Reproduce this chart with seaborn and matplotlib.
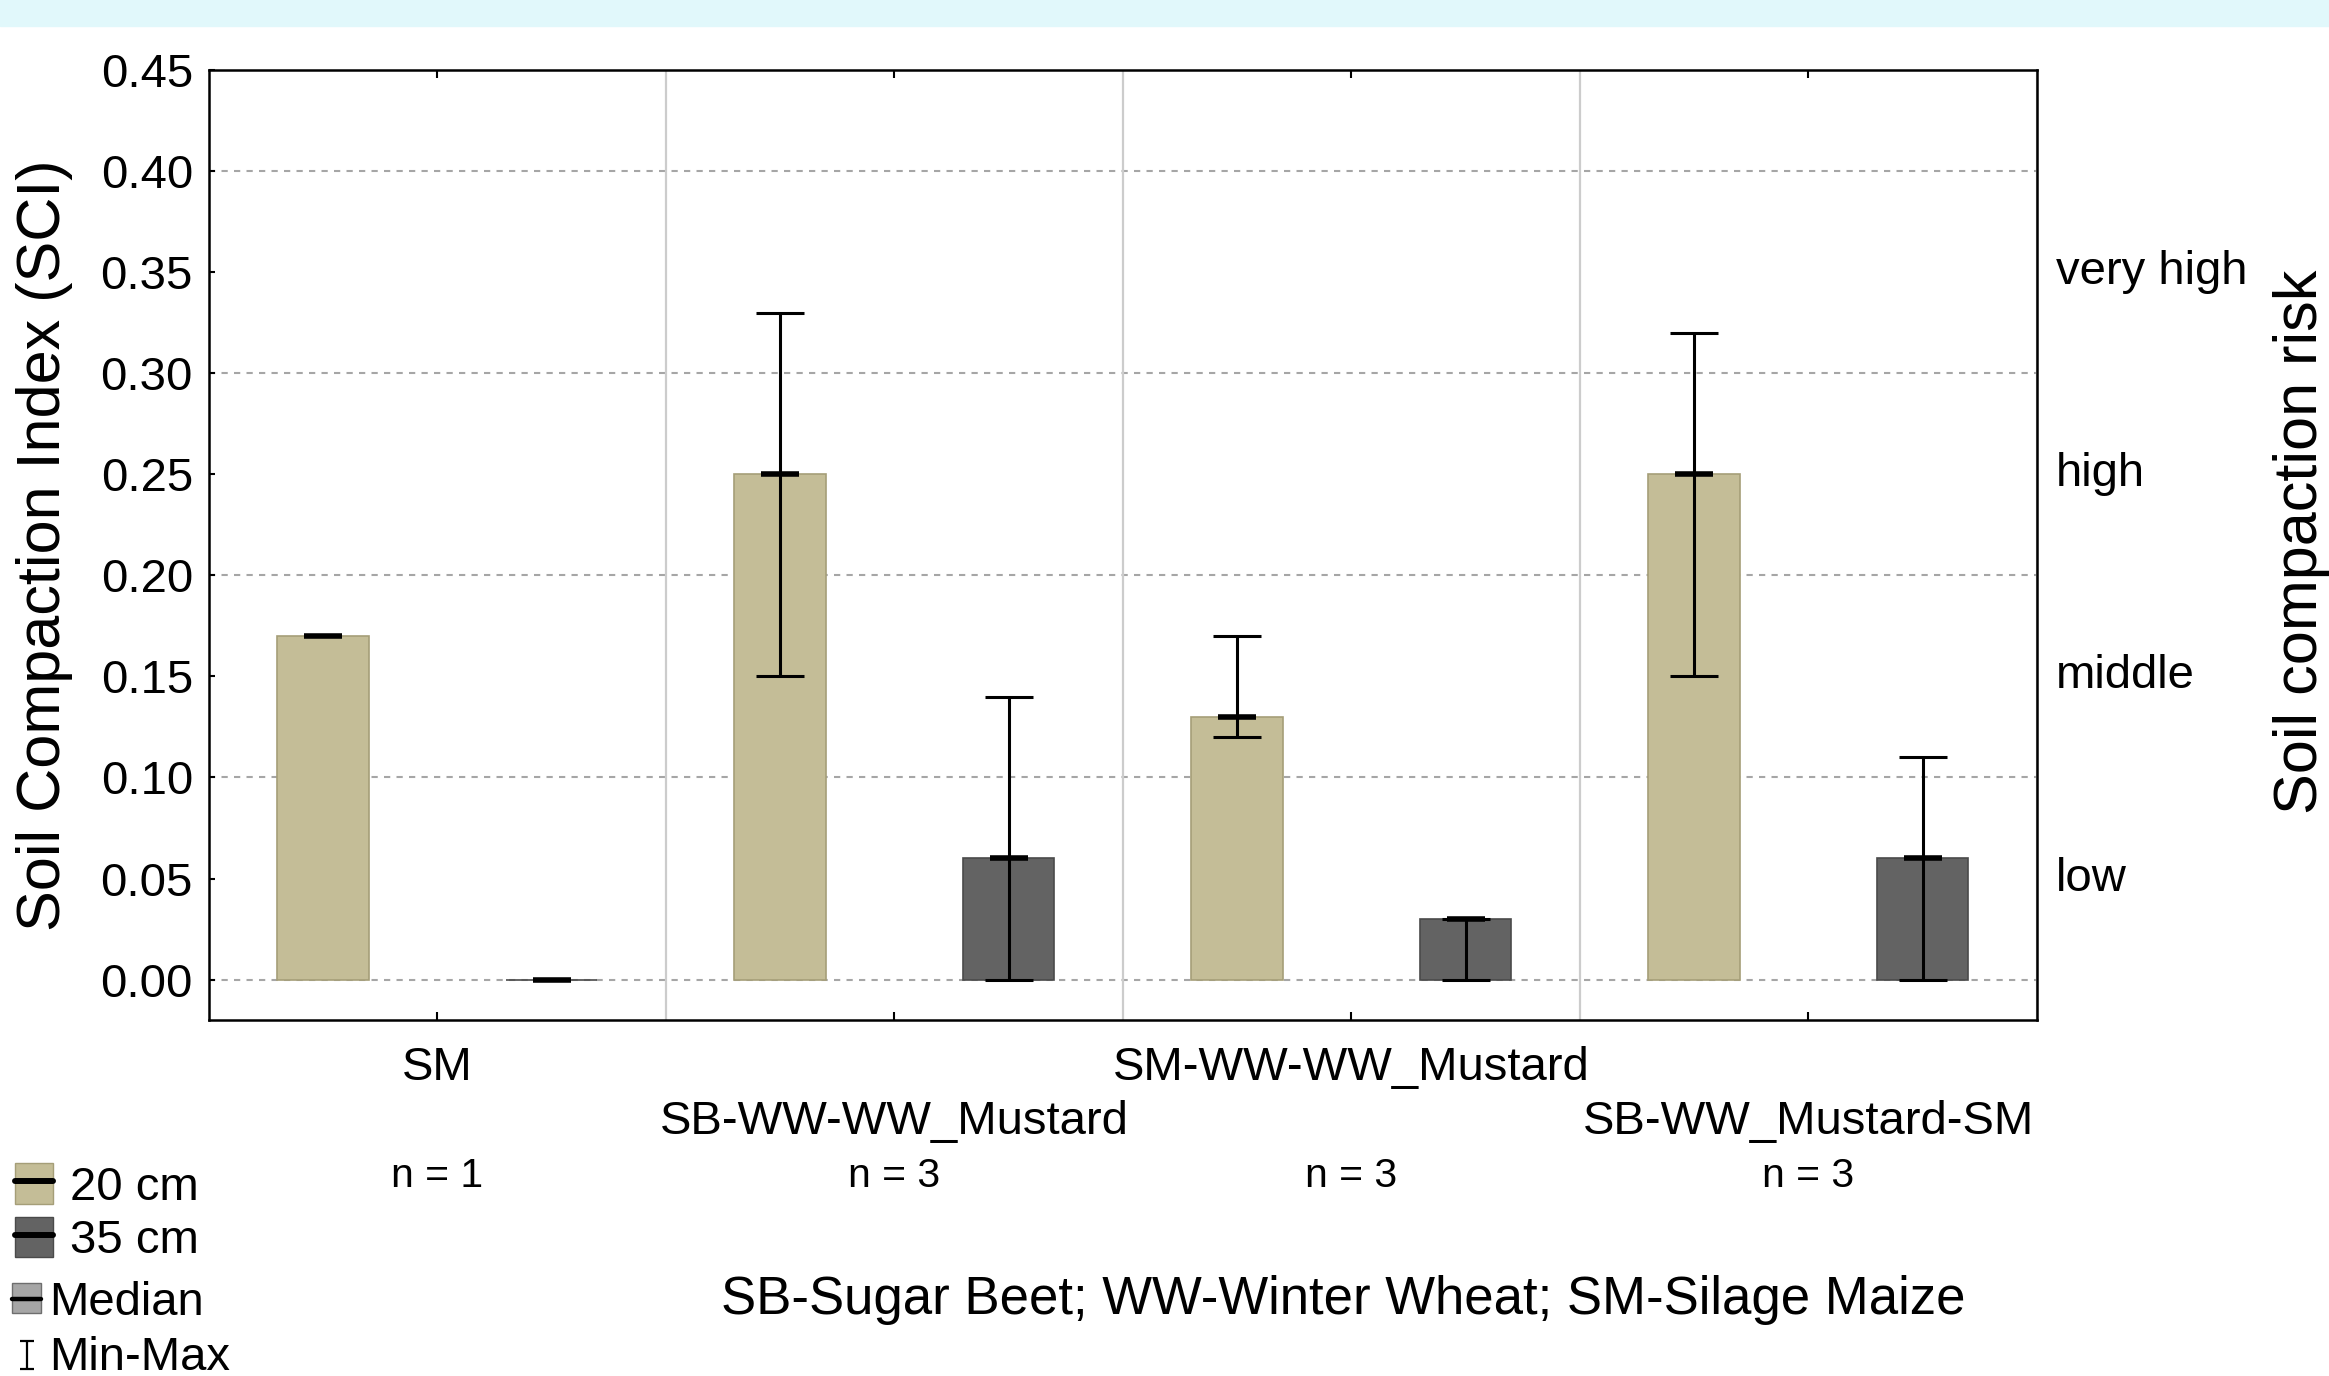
import numpy as np
import pandas as pd
import seaborn as sns
import matplotlib.pyplot as plt
from matplotlib.lines import Line2D
from matplotlib.patches import Patch, Rectangle
from matplotlib.path import Path
from matplotlib.ticker import FormatStrFormatter

ROTATIONS = ["SM", "SB-WW-WW_Mustard", "SM-WW-WW_Mustard", "SB-WW_Mustard-SM"]
N_SAMPLES = [1, 3, 3, 3]
DEPTHS = ["20 cm", "35 cm"]

MEDIAN_20 = [0.17, 0.25, 0.13, 0.25]
MIN_20 = [0.17, 0.15, 0.12, 0.15]
MAX_20 = [0.17, 0.33, 0.17, 0.32]

MEDIAN_35 = [0.00, 0.06, 0.03, 0.06]
MIN_35 = [0.00, 0.00, 0.00, 0.00]
MAX_35 = [0.00, 0.14, 0.03, 0.11]

RISK_LABELS = ["low", "middle", "high", "very high"]
RISK_LEVELS = [0.05, 0.15, 0.25, 0.35]

COLORS = {"20 cm": "#c4bd97", "35 cm": "#636363"}
EDGES = {"20 cm": "#a59e78", "35 cm": "#4a4a4a"}

# I-beam glyph for the min-max legend entry
IBEAM = Path(
    [(-0.5, -1), (0.5, -1), (0, -1), (0, 1), (-0.5, 1), (0.5, 1)],
    [Path.MOVETO, Path.LINETO, Path.MOVETO, Path.LINETO, Path.MOVETO, Path.LINETO],
)

sns.set_style("ticks")
plt.rcParams["font.family"] = ["Liberation Sans", "DejaVu Sans"]
plt.rcParams["text.color"] = "k"
plt.rcParams["axes.labelcolor"] = "k"
plt.rcParams["xtick.color"] = "k"
plt.rcParams["ytick.color"] = "k"


def _build_df():
    rows = []
    for depth, med, lo, hi in zip(
        DEPTHS, [MEDIAN_20, MEDIAN_35], [MIN_20, MIN_35], [MAX_20, MAX_35]
    ):
        for rot, m, a, b in zip(ROTATIONS, med, lo, hi):
            rows.append((rot, depth, m, a, b))
    return pd.DataFrame(rows, columns=["rotation", "depth", "median", "min", "max"])


def plot_sci(ax, df):
    sns.barplot(
        data=df,
        x="rotation",
        y="median",
        hue="depth",
        order=ROTATIONS,
        hue_order=DEPTHS,
        palette=COLORS,
        width=1.0,
        gap=0.6,
        saturation=1,
        errorbar=None,
        legend=False,
        linewidth=1.2,
        ax=ax,
        zorder=2,
    )
    for container, depth in zip(ax.containers, DEPTHS):
        _df = df[df["depth"] == depth].reset_index(drop=True)
        xs = np.array([p.get_x() + p.get_width() / 2 for p in container])
        for p in container:
            p.set_edgecolor(EDGES[depth])
        # min-max whiskers, only where there is a spread
        spread = (_df["max"] - _df["min"]).to_numpy() > 0
        ax.errorbar(
            xs[spread],
            _df["median"][spread],
            yerr=[
                (_df["median"] - _df["min"])[spread],
                (_df["max"] - _df["median"])[spread],
            ],
            fmt="none",
            ecolor="k",
            elinewidth=2.2,
            capsize=17,
            capthick=2.2,
            zorder=4,
        )
        # median marks
        ax.plot(
            xs, _df["median"], ls="none", marker="_", ms=27, mew=4, color="k", zorder=5
        )

    # horizontal dashed grid every 0.1
    for v in np.arange(0, 0.41, 0.1):
        ax.axhline(v, color="#a6a6a6", lw=1.5, ls=(0, (3, 3)), zorder=0.5)
    ax.set_xticks(np.arange(len(ROTATIONS)) + 0.5, minor=True)
    ax.grid(which="minor", axis="x", color="#cccccc", lw=1.6, ls="-", zorder=0.5)
    ax.set_axisbelow(True)

    ax.set_xlim(-0.5, len(ROTATIONS) - 0.5)
    ax.set_ylim(-0.02, 0.45)
    ax.set_yticks(np.arange(0, 0.451, 0.05))
    ax.yaxis.set_major_formatter(FormatStrFormatter("%.2f"))
    ax.tick_params(axis="y", direction="in", length=4, width=1.5, labelsize=34, pad=11.5)
    ax.tick_params(
        axis="x", direction="in", length=6, width=1.5, top=True, labelbottom=False
    )
    ax.tick_params(which="minor", length=0)
    for s in ax.spines.values():
        s.set_color("k")
        s.set_linewidth(1.8)

    ax.set_xlabel("")
    ax.set_ylabel("Soil Compaction Index (SCI)", fontsize=44)
    ax.yaxis.set_label_coords(-0.0897, 0.5)
    ax.yaxis.label.set_va("center")

    # staggered group names and sample sizes
    xt = ax.get_xaxis_transform()
    for i, (rot, n) in enumerate(zip(ROTATIONS, N_SAMPLES)):
        ax.text(i, -0.050 if i % 2 == 0 else -0.107, rot, transform=xt,
                ha="center", va="center", fontsize=34)
        ax.text(i, -0.164, f"n = {n}", transform=xt,
                ha="center", va="center", fontsize=29.5)

    # risk classes on the right
    yt = ax.get_yaxis_transform()
    for lbl, v in zip(RISK_LABELS, RISK_LEVELS):
        ax.text(1.0104, v, lbl, transform=yt, ha="left", va="center", fontsize=34)


if __name__ == "__main__":
    df = _build_df()

    fig = plt.figure(figsize=(23.29, 13.76), dpi=100)
    fig.add_artist(
        Rectangle((0, 1 - 26 / 1376), 1, 26 / 1376, transform=fig.transFigure,
                  color="#e1f8fb", zorder=0)
    )
    ax = fig.add_axes([0.0897, 0.2587, 0.7849, 0.6904])
    plot_sci(ax, df)

    fig.text(0.9884, 0.606, "Soil compaction risk", rotation=90,
             ha="center", va="center", fontsize=44)
    fig.text(0.5768, 0.0552, "SB-Sugar Beet; WW-Winter Wheat; SM-Silage Maize",
             ha="center", va="center", fontsize=38)

    depth_handles = [
        (Patch(facecolor=COLORS[d], edgecolor=EDGES[d]), Line2D([], [], color="k", lw=4.3))
        for d in DEPTHS
    ]
    fig.legend(
        handles=depth_handles, labels=DEPTHS, loc="upper left",
        bbox_to_anchor=(15 / 2329, 1 - 1163 / 1376), frameon=False,
        fontsize=34, handlelength=0.8, handleheight=0.95, handletextpad=0.36,
        labelspacing=0.15, borderpad=0, borderaxespad=0,
    )
    stat_handles = [
        (Patch(facecolor="#a6a6a6", edgecolor="#6e6e6e"), Line2D([], [], color="k", lw=3.2)),
        Line2D([], [], ls="none", marker=IBEAM, ms=20, color="k", mew=1.6,
               fillstyle="none"),
    ]
    fig.legend(
        handles=stat_handles, labels=["Median", "Min-Max"], loc="upper left",
        bbox_to_anchor=(12 / 2329, 1 - 1281 / 1376), frameon=False,
        fontsize=34, handlelength=0.62, handleheight=0.6, handletextpad=0.17,
        labelspacing=0.24, borderpad=0, borderaxespad=0,
    )

    fig.savefig("out.png", dpi=100)
